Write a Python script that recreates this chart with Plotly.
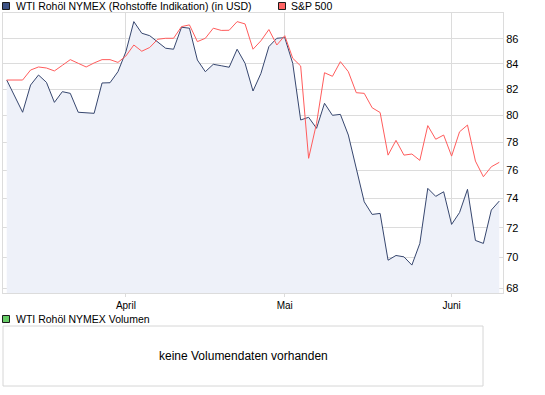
import math
import plotly.graph_objects as go

# ---- data ----
dates = [
    "2010-03-11", "2010-03-12", "2010-03-15", "2010-03-16", "2010-03-17", "2010-03-18", "2010-03-19",
    "2010-03-22", "2010-03-23", "2010-03-24", "2010-03-25", "2010-03-26", "2010-03-29", "2010-03-30",
    "2010-03-31",
    "2010-04-01", "2010-04-06", "2010-04-07", "2010-04-08", "2010-04-09", "2010-04-12", "2010-04-13",
    "2010-04-14", "2010-04-15", "2010-04-16", "2010-04-19", "2010-04-20", "2010-04-21", "2010-04-22",
    "2010-04-23", "2010-04-26", "2010-04-27", "2010-04-28", "2010-04-29", "2010-04-30",
    "2010-05-03", "2010-05-04", "2010-05-05", "2010-05-06", "2010-05-07", "2010-05-10", "2010-05-11",
    "2010-05-12", "2010-05-13", "2010-05-14", "2010-05-17", "2010-05-18", "2010-05-19", "2010-05-20",
    "2010-05-21", "2010-05-24", "2010-05-25", "2010-05-26", "2010-05-27", "2010-05-28", "2010-05-31",
    "2010-06-01", "2010-06-02", "2010-06-03", "2010-06-04", "2010-06-07", "2010-06-08", "2010-06-09",
]

wti = [
    82.72, 81.47, 80.25, 82.33, 83.11, 82.54, 81.00, 81.82, 81.69, 80.25,
    80.22, 80.17, 82.49, 82.51, 83.37, 84.95, 87.39, 86.44, 86.24, 85.76,
    85.23, 85.15, 86.93, 86.85, 84.29, 83.37, 83.95, 83.84, 83.72, 85.15,
    84.03, 81.87, 83.24, 85.36, 86.03, 86.08, 84.03, 79.67, 79.87, 79.05,
    80.93, 80.02, 80.09, 78.55, 76.22, 73.77, 72.90, 72.97, 69.83, 70.14,
    70.05, 69.51, 70.94, 74.71, 74.15, 74.47, 72.22, 73.03, 74.64, 71.14,
    70.94, 73.20, 73.82,
]

sp500 = [
    82.72, 82.72, 82.72, 83.50, 83.74, 83.66, 83.43, 83.87, 84.32, 84.03,
    83.74, 84.06, 84.32, 84.32, 84.10, 84.61, 85.49, 84.99, 85.29, 85.95,
    86.03, 86.03, 86.98, 87.12, 85.76, 86.03, 86.85, 86.67, 86.68, 87.39,
    87.20, 85.15, 85.83, 86.74, 85.49, 86.24, 84.43, 83.82, 76.85, 79.42,
    83.29, 83.01, 84.16, 83.37, 81.74, 81.69, 80.59, 80.23, 77.08, 78.16,
    77.08, 77.16, 76.70, 79.25, 78.24, 78.55, 77.01, 78.79, 79.29, 76.65,
    75.53, 76.24, 76.56,
]

y_ticks = [68, 70, 72, 74, 76, 78, 80, 82, 84, 86]
month_ticks = ["2010-04-01", "2010-05-03", "2010-06-01"]
month_labels = ["April", "Mai", "Juni"]

name_wti = "WTI Rohöl NYMEX (Rohstoffe Indikation) (in USD)"
name_sp = "S&P 500"
name_vol = "WTI Rohöl NYMEX Volumen"
no_volume = "keine Volumendaten vorhanden"

# ---- layout helpers (pixel -> paper) ----
W, H = 545, 395
def px(x):
    return x / W
def py(y):
    return 1 - y / H

FONT = "Liberation Sans, Arial, sans-serif"
GRID = "#dcdcdc"
NAVY = "#36466e"
RED = "#ff5c5c"

fig = go.Figure()
fig.add_trace(go.Scatter(
    x=dates, y=wti, mode="lines", name=name_wti,
    line=dict(color=NAVY, width=1),
    fill="tozeroy", fillcolor="#eef1f9",
    hoverinfo="skip",
))
fig.add_trace(go.Scatter(
    x=dates, y=sp500, mode="lines", name=name_sp,
    line=dict(color=RED, width=1),
    hoverinfo="skip",
))

fig.update_layout(
    width=W, height=H,
    margin=dict(l=0, r=0, t=0, b=0),
    paper_bgcolor="white", plot_bgcolor="white",
    showlegend=False,
    font=dict(family=FONT, size=10, color="#000000"),
    xaxis=dict(
        type="category",
        domain=[px(3), px(503)],
        range=[-0.47, len(dates) - 1 + 0.47],
        tickvals=month_ticks, ticktext=month_labels,
        showgrid=True, gridcolor=GRID, gridwidth=1,
        showline=True, linecolor=GRID, linewidth=1, mirror=True,
        ticks="outside", ticklen=3, tickcolor=GRID,
        tickfont=dict(size=10, family=FONT),
        zeroline=False,
    ),
    yaxis=dict(
        type="log",
        domain=[py(293.3), py(13)],
        range=[math.log10(67.69), math.log10(88.1)],
        side="right",
        tickvals=y_ticks, ticktext=[str(v) for v in y_ticks],
        showgrid=True, gridcolor=GRID, gridwidth=1,
        showline=True, linecolor=GRID, linewidth=1, mirror=True,
        ticks="", tickfont=dict(size=11, family=FONT),
        zeroline=False,
    ),
)

shapes = [
    # legend squares
    dict(type="rect", xref="paper", yref="paper", x0=px(2.5), x1=px(9.5), y0=py(9.5), y1=py(2.5),
         fillcolor="#3d5284", line=dict(color="#1a1a1a", width=1)),
    dict(type="rect", xref="paper", yref="paper", x0=px(278.5), x1=px(285.5), y0=py(9.5), y1=py(2.5),
         fillcolor="#ff6464", line=dict(color="#1a1a1a", width=1)),
    dict(type="rect", xref="paper", yref="paper", x0=px(2.5), x1=px(9.5), y0=py(322.5), y1=py(315.5),
         fillcolor="#66cc66", line=dict(color="#1a1a1a", width=1)),
    # empty volume panel
    dict(type="rect", xref="paper", yref="paper", x0=px(3), x1=px(483), y0=py(386), y1=py(326),
         fillcolor="white", line=dict(color="#d6d6d6", width=1)),
]
annotations = [
    dict(text=name_wti, xref="paper", yref="paper", x=px(14), y=py(6), xanchor="left", yanchor="middle",
         showarrow=False, font=dict(size=10.5, family=FONT)),
    dict(text=name_sp, xref="paper", yref="paper", x=px(289), y=py(6), xanchor="left", yanchor="middle",
         showarrow=False, font=dict(size=10.5, family=FONT)),
    dict(text=name_vol, xref="paper", yref="paper", x=px(14), y=py(319), xanchor="left", yanchor="middle",
         showarrow=False, font=dict(size=10.5, family=FONT)),
    dict(text=no_volume, xref="paper", yref="paper", x=px(243), y=py(355.5), xanchor="center", yanchor="middle",
         showarrow=False, font=dict(size=12, family=FONT)),
]
fig.update_layout(shapes=shapes, annotations=annotations)

fig.write_html(
    "out.html",
    config={"displayModeBar": False},
    post_script="document.body.style.margin='0';document.body.style.padding='0';",
)
